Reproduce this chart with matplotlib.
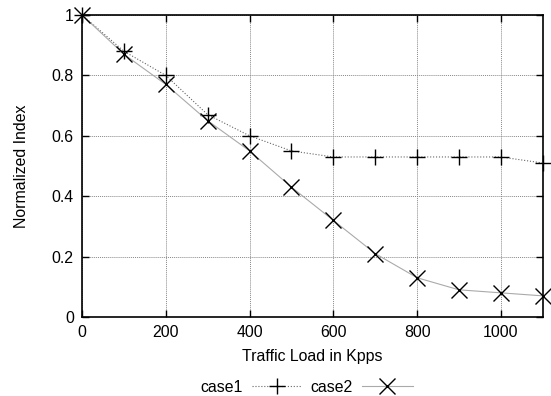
import matplotlib
matplotlib.use('Agg')
import matplotlib.pyplot as plt

# Data
load = [0, 100, 200, 300, 400, 500, 600, 700, 800, 900, 1000, 1100]
case1 = [1.0, 0.88, 0.80, 0.67, 0.60, 0.55, 0.53, 0.53, 0.53, 0.53, 0.53, 0.51]
case2 = [1.0, 0.87, 0.77, 0.65, 0.55, 0.43, 0.32, 0.21, 0.13, 0.09, 0.08, 0.07]
xticks = [0, 200, 400, 600, 800, 1000]
yticks = [0, 0.2, 0.4, 0.6, 0.8, 1.0]
ytick_labels = ['0', '0.2', '0.4', '0.6', '0.8', '1']

plt.rcParams['font.family'] = ['Liberation Sans', 'DejaVu Sans']
plt.rcParams['font.size'] = 11.4

fig = plt.figure(figsize=(5.51, 3.96), dpi=100)
ax = fig.add_axes([0.149, 0.1995, 0.836, 0.7625])

ax.plot(load, case1, color='#666666', linestyle=':', linewidth=0.8,
        marker='+', markersize=11, markeredgewidth=1.0,
        markeredgecolor='black', label='case1', clip_on=False, zorder=3)
ax.plot(load, case2, color='#aaaaaa', linestyle='-', linewidth=0.8,
        marker='x', markersize=11, markeredgewidth=1.0,
        markeredgecolor='black', label='case2', clip_on=False, zorder=3)

ax.set_xlim(0, 1100)
ax.set_ylim(0, 1)
ax.set_xticks(xticks)
ax.set_yticks(yticks)
ax.set_yticklabels(ytick_labels)
ax.grid(True, color='#888888', linestyle=(0, (1, 1)), linewidth=0.7)
ax.tick_params(direction='in', top=True, right=True, length=5, width=1,
               colors='black', pad=6)
for spine in ax.spines.values():
    spine.set_linewidth(1.2)

ax.set_xlabel('Traffic Load in Kpps', labelpad=6)
ax.set_ylabel('Normalized Index', labelpad=16)

fig.legend(loc='center', bbox_to_anchor=(0.556, 0.022), ncol=2, frameon=False,
           markerfirst=False, handlelength=3.2, columnspacing=0.5,
           handletextpad=0.6)

fig.savefig('out.png', dpi=100)
